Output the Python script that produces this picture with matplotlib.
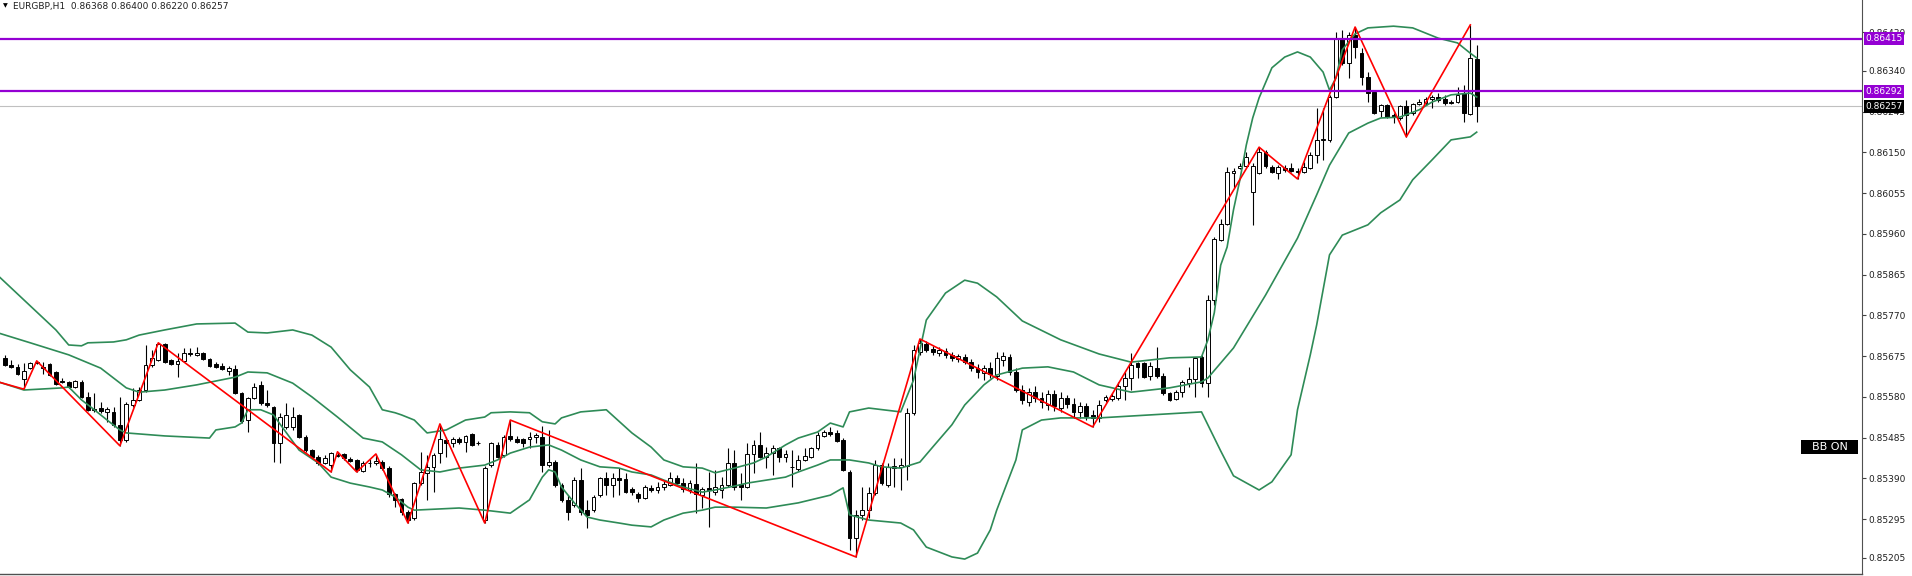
import matplotlib
matplotlib.use("Agg")
import matplotlib.pyplot as plt
import matplotlib.transforms as mtransforms
from matplotlib.patches import Rectangle
import numpy as np

symbol = "EURGBP,H1"

# hourly candles, oldest first
opens = [
    0.85671, 0.85654, 0.85650, 0.85622, 0.85647, 0.85659, 0.85650, 0.85657, 0.85638, 0.85617,
    0.85615, 0.85603, 0.85615, 0.85580, 0.85552, 0.85554, 0.85545, 0.85545, 0.85515, 0.85480,
    0.85561, 0.85573, 0.85596, 0.85654, 0.85666, 0.85703, 0.85666, 0.85657, 0.85664, 0.85682,
    0.85678, 0.85682, 0.85668, 0.85657, 0.85652, 0.85640, 0.85645, 0.85589, 0.85526, 0.85577,
    0.85608, 0.85566, 0.85556, 0.85473, 0.85510, 0.85510, 0.85538, 0.85486, 0.85456, 0.85440,
    0.85426, 0.85421, 0.85442, 0.85447, 0.85435, 0.85433, 0.85407, 0.85426, 0.85426, 0.85428,
    0.85414, 0.85354, 0.85342, 0.85312, 0.85298, 0.85379, 0.85403, 0.85417, 0.85449, 0.85480,
    0.85473, 0.85482, 0.85475, 0.85493, 0.85473, 0.85293, 0.85421, 0.85468, 0.85445, 0.85489,
    0.85482, 0.85482, 0.85482, 0.85486, 0.85486, 0.85421, 0.85428, 0.85375, 0.85340, 0.85328,
    0.85386, 0.85316, 0.85316, 0.85351, 0.85391, 0.85375, 0.85391, 0.85389, 0.85365, 0.85354,
    0.85344, 0.85368, 0.85363, 0.85370, 0.85375, 0.85391, 0.85379, 0.85363, 0.85377, 0.85351,
    0.85368, 0.85358, 0.85363, 0.85375, 0.85426, 0.85377, 0.85370, 0.85447, 0.85468, 0.85440,
    0.85449, 0.85461, 0.85440, 0.85417, 0.85412, 0.85433, 0.85440, 0.85461, 0.85489, 0.85498,
    0.85496, 0.85480, 0.85405, 0.85251, 0.85305, 0.85316, 0.85356, 0.85421, 0.85375, 0.85414,
    0.85417, 0.85419, 0.85543, 0.85685, 0.85703, 0.85692, 0.85682, 0.85687, 0.85678, 0.85668,
    0.85673, 0.85661, 0.85647, 0.85636, 0.85647, 0.85629, 0.85666, 0.85673, 0.85638, 0.85596,
    0.85568, 0.85591, 0.85577, 0.85561, 0.85587, 0.85554, 0.85577, 0.85563, 0.85545, 0.85559,
    0.85538, 0.85531, 0.85573, 0.85575, 0.85577, 0.85605, 0.85624, 0.85659, 0.85659, 0.85629,
    0.85647, 0.85629, 0.85589, 0.85575, 0.85591, 0.85612, 0.85622, 0.85673, 0.85612, 0.85806,
    0.85946, 0.85983, 0.86102, 0.86113, 0.86118, 0.86058, 0.86102, 0.86151, 0.86116, 0.86102,
    0.86113, 0.86113, 0.86106, 0.86104, 0.86113, 0.86144, 0.86179, 0.86179, 0.86279, 0.86416,
    0.86358, 0.86423, 0.86381, 0.86326, 0.86291, 0.86246, 0.86260, 0.86237, 0.86230, 0.86258,
    0.86242, 0.86263, 0.86265, 0.86274, 0.86279, 0.86274, 0.86267, 0.86267, 0.86288, 0.86239,
    0.86368,
]
closes = [
    0.85654, 0.85650, 0.85633, 0.85640, 0.85659, 0.85661, 0.85647, 0.85631, 0.85610, 0.85615,
    0.85603, 0.85617, 0.85580, 0.85550, 0.85550, 0.85547, 0.85552, 0.85515, 0.85480, 0.85563,
    0.85573, 0.85596, 0.85654, 0.85671, 0.85703, 0.85661, 0.85657, 0.85664, 0.85682, 0.85680,
    0.85682, 0.85668, 0.85652, 0.85650, 0.85645, 0.85647, 0.85589, 0.85524, 0.85577, 0.85603,
    0.85566, 0.85561, 0.85473, 0.85533, 0.85538, 0.85533, 0.85486, 0.85456, 0.85440, 0.85426,
    0.85438, 0.85449, 0.85445, 0.85438, 0.85431, 0.85410, 0.85426, 0.85425, 0.85431, 0.85414,
    0.85354, 0.85340, 0.85312, 0.85293, 0.85379, 0.85405, 0.85417, 0.85445, 0.85482, 0.85473,
    0.85482, 0.85475, 0.85489, 0.85468, 0.85472, 0.85414, 0.85473, 0.85440, 0.85486, 0.85482,
    0.85475, 0.85473, 0.85486, 0.85491, 0.85421, 0.85428, 0.85375, 0.85340, 0.85312, 0.85386,
    0.85312, 0.85305, 0.85347, 0.85391, 0.85375, 0.85391, 0.85386, 0.85358, 0.85358, 0.85344,
    0.85370, 0.85363, 0.85370, 0.85377, 0.85391, 0.85379, 0.85365, 0.85379, 0.85354, 0.85365,
    0.85363, 0.85370, 0.85375, 0.85426, 0.85370, 0.85370, 0.85447, 0.85468, 0.85440, 0.85449,
    0.85461, 0.85440, 0.85447, 0.85416, 0.85433, 0.85442, 0.85461, 0.85491, 0.85498, 0.85493,
    0.85477, 0.85410, 0.85251, 0.85305, 0.85316, 0.85356, 0.85421, 0.85379, 0.85417, 0.85419,
    0.85421, 0.85543, 0.85689, 0.85706, 0.85689, 0.85685, 0.85689, 0.85678, 0.85671, 0.85675,
    0.85661, 0.85647, 0.85638, 0.85647, 0.85633, 0.85671, 0.85675, 0.85638, 0.85596, 0.85573,
    0.85591, 0.85577, 0.85568, 0.85587, 0.85559, 0.85577, 0.85563, 0.85545, 0.85559, 0.85536,
    0.85531, 0.85561, 0.85580, 0.85582, 0.85605, 0.85624, 0.85654, 0.85650, 0.85626, 0.85652,
    0.85629, 0.85589, 0.85573, 0.85591, 0.85615, 0.85622, 0.85671, 0.85612, 0.85806, 0.85948,
    0.85983, 0.86104, 0.86106, 0.86118, 0.86139, 0.86118, 0.86151, 0.86118, 0.86104, 0.86116,
    0.86109, 0.86106, 0.86105, 0.86116, 0.86144, 0.86179, 0.86181, 0.86279, 0.86416, 0.86358,
    0.86423, 0.86395, 0.86326, 0.86288, 0.86242, 0.86260, 0.86232, 0.86232, 0.86258, 0.86237,
    0.86263, 0.86267, 0.86274, 0.86279, 0.86272, 0.86265, 0.86265, 0.86284, 0.86242, 0.86370,
    0.86257,
]
highs = [
    0.85678, 0.85666, 0.85657, 0.85659, 0.85661, 0.85664, 0.85661, 0.85659, 0.85640, 0.85624,
    0.85617, 0.85619, 0.85619, 0.85591, 0.85589, 0.85568, 0.85556, 0.85556, 0.85580, 0.85568,
    0.85601, 0.85603, 0.85701, 0.85689, 0.85706, 0.85706, 0.85668, 0.85682, 0.85694, 0.85694,
    0.85696, 0.85685, 0.85671, 0.85661, 0.85659, 0.85652, 0.85654, 0.85591, 0.85580, 0.85612,
    0.85617, 0.85596, 0.85559, 0.85543, 0.85566, 0.85556, 0.85540, 0.85491, 0.85459, 0.85445,
    0.85445, 0.85452, 0.85452, 0.85449, 0.85440, 0.85435, 0.85431, 0.85435, 0.85447, 0.85433,
    0.85419, 0.85356, 0.85344, 0.85316, 0.85382, 0.85452, 0.85445, 0.85449, 0.85517, 0.85486,
    0.85486, 0.85486, 0.85491, 0.85496, 0.85477, 0.85419, 0.85475, 0.85475, 0.85491, 0.85526,
    0.85489, 0.85484, 0.85498, 0.85496, 0.85512, 0.85503, 0.85433, 0.85379, 0.85351, 0.85393,
    0.85414, 0.85340, 0.85351, 0.85393, 0.85405, 0.85403, 0.85414, 0.85403, 0.85370, 0.85358,
    0.85375, 0.85375, 0.85382, 0.85386, 0.85405, 0.85398, 0.85391, 0.85386, 0.85426, 0.85370,
    0.85405, 0.85410, 0.85393, 0.85461, 0.85456, 0.85403, 0.85473, 0.85480, 0.85498, 0.85463,
    0.85468, 0.85463, 0.85456, 0.85456, 0.85445, 0.85461, 0.85463, 0.85498, 0.85503, 0.85510,
    0.85503, 0.85484, 0.85410, 0.85316, 0.85370, 0.85370, 0.85433, 0.85426, 0.85426, 0.85438,
    0.85438, 0.85554, 0.85701, 0.85715, 0.85710, 0.85699, 0.85696, 0.85694, 0.85685, 0.85680,
    0.85680, 0.85668, 0.85657, 0.85654, 0.85661, 0.85685, 0.85685, 0.85680, 0.85647, 0.85608,
    0.85601, 0.85605, 0.85591, 0.85596, 0.85596, 0.85591, 0.85584, 0.85577, 0.85568, 0.85566,
    0.85550, 0.85573, 0.85584, 0.85589, 0.85615, 0.85638, 0.85682, 0.85661, 0.85661, 0.85661,
    0.85696, 0.85636, 0.85591, 0.85596, 0.85619, 0.85650, 0.85673, 0.85678, 0.85818, 0.85953,
    0.85995, 0.86116, 0.86113, 0.86125, 0.86151, 0.86125, 0.86162, 0.86155, 0.86120, 0.86120,
    0.86120, 0.86125, 0.86113, 0.86127, 0.86151, 0.86253, 0.86253, 0.86284, 0.86430, 0.86435,
    0.86430, 0.86442, 0.86393, 0.86337, 0.86295, 0.86263, 0.86263, 0.86242, 0.86260, 0.86272,
    0.86265, 0.86274, 0.86279, 0.86284, 0.86288, 0.86284, 0.86272, 0.86302, 0.86307, 0.86447,
    0.86400,
]
lows = [
    0.85652, 0.85647, 0.85631, 0.85598, 0.85645, 0.85657, 0.85633, 0.85629, 0.85608, 0.85612,
    0.85601, 0.85601, 0.85577, 0.85547, 0.85545, 0.85543, 0.85522, 0.85510, 0.85466, 0.85475,
    0.85556, 0.85570, 0.85591, 0.85650, 0.85664, 0.85659, 0.85654, 0.85626, 0.85661, 0.85675,
    0.85675, 0.85666, 0.85650, 0.85647, 0.85643, 0.85631, 0.85587, 0.85519, 0.85498, 0.85575,
    0.85561, 0.85556, 0.85428, 0.85426, 0.85505, 0.85503, 0.85484, 0.85452, 0.85438, 0.85421,
    0.85424, 0.85405, 0.85440, 0.85433, 0.85428, 0.85405, 0.85405, 0.85417, 0.85421, 0.85410,
    0.85347, 0.85323, 0.85305, 0.85286, 0.85293, 0.85375, 0.85340, 0.85358, 0.85426, 0.85440,
    0.85463, 0.85470, 0.85452, 0.85466, 0.85468, 0.85286, 0.85417, 0.85438, 0.85440, 0.85477,
    0.85473, 0.85463, 0.85461, 0.85473, 0.85405, 0.85417, 0.85370, 0.85335, 0.85293, 0.85323,
    0.85305, 0.85274, 0.85312, 0.85347, 0.85351, 0.85347, 0.85351, 0.85356, 0.85351, 0.85335,
    0.85342, 0.85358, 0.85356, 0.85363, 0.85372, 0.85375, 0.85358, 0.85356, 0.85309, 0.85321,
    0.85277, 0.85351, 0.85344, 0.85370, 0.85363, 0.85340, 0.85368, 0.85403, 0.85438, 0.85414,
    0.85398, 0.85428, 0.85428, 0.85370, 0.85407, 0.85431, 0.85438, 0.85456, 0.85486, 0.85489,
    0.85475, 0.85407, 0.85223, 0.85207, 0.85293, 0.85298, 0.85351, 0.85375, 0.85370, 0.85370,
    0.85363, 0.85386, 0.85538, 0.85678, 0.85685, 0.85678, 0.85675, 0.85671, 0.85664, 0.85661,
    0.85657, 0.85640, 0.85624, 0.85619, 0.85624, 0.85619, 0.85652, 0.85631, 0.85591, 0.85563,
    0.85559, 0.85568, 0.85554, 0.85550, 0.85547, 0.85545, 0.85554, 0.85531, 0.85531, 0.85526,
    0.85510, 0.85522, 0.85568, 0.85570, 0.85573, 0.85573, 0.85596, 0.85624, 0.85624, 0.85619,
    0.85624, 0.85584, 0.85570, 0.85573, 0.85580, 0.85603, 0.85580, 0.85603, 0.85580, 0.85794,
    0.85943, 0.85981, 0.86067, 0.86111, 0.86116, 0.85981, 0.86099, 0.86113, 0.86102, 0.86088,
    0.86104, 0.86104, 0.86088, 0.86102, 0.86111, 0.86125, 0.86132, 0.86174, 0.86277, 0.86354,
    0.86323, 0.86370, 0.86307, 0.86267, 0.86239, 0.86232, 0.86230, 0.86218, 0.86225, 0.86186,
    0.86237, 0.86260, 0.86260, 0.86253, 0.86267, 0.86260, 0.86263, 0.86265, 0.86221, 0.86237,
    0.86220,
]

# zigzag pivots (candle index, price)
zz_idx = [-2, 3, 5, 18, 24, 51, 52, 55, 58, 63, 68, 75, 79, 133, 143, 170, 196, 202, 211, 219, 229]
zz_price = [0.85619, 0.85598, 0.85664, 0.85466, 0.85706, 0.85405, 0.85452, 0.85405, 0.85447, 0.85286,
            0.85517, 0.85286, 0.85526, 0.85207, 0.85715, 0.85510, 0.86162, 0.86088, 0.86442, 0.86186,
            0.86447]

# bollinger bands read at selected candles
bb_up_idx = [-1, 8, 10, 12, 13, 17, 19, 21, 25, 30, 36, 38, 41, 45, 48, 51, 54, 57, 59, 61,
             62, 64, 66, 69, 72, 75, 76, 79, 82, 84, 86, 87, 90, 94, 98, 101, 103, 106, 109, 111,
             114, 117, 119, 122, 124, 127, 129, 131, 132, 135, 140, 142, 144, 147, 150, 152, 155, 159, 165, 171,
             176, 182, 187, 188, 189, 190, 191, 192, 193, 194, 195, 196, 198, 200, 202, 204, 206, 207, 208, 209,
             211, 213, 217, 220, 222, 224, 227, 229, 230]
bb_up = [0.85862, 0.85736, 0.85701, 0.85699, 0.85706, 0.85708, 0.85713, 0.85724, 0.85736, 0.85750,
         0.85752, 0.85731, 0.85729, 0.85736, 0.85724, 0.85696, 0.85643, 0.85603, 0.85550, 0.85543,
         0.85538, 0.85526, 0.85496, 0.85503, 0.85526, 0.85533, 0.85543, 0.85545, 0.85543, 0.85522,
         0.85517, 0.85531, 0.85545, 0.85550, 0.85496, 0.85463, 0.85433, 0.85417, 0.85414, 0.85403,
         0.85414, 0.85426, 0.85440, 0.85468, 0.85484, 0.85498, 0.85519, 0.85510, 0.85545, 0.85554,
         0.85545, 0.85619, 0.85759, 0.85822, 0.85852, 0.85845, 0.85813, 0.85757, 0.85713, 0.85680,
         0.85661, 0.85671, 0.85673, 0.85713, 0.85776, 0.85887, 0.85929, 0.86016, 0.86086, 0.86167,
         0.86230, 0.86277, 0.86347, 0.86372, 0.86384, 0.86372, 0.86337, 0.86295, 0.86323, 0.86389,
         0.86426, 0.86440, 0.86444, 0.86440, 0.86428, 0.86416, 0.86405, 0.86381, 0.86370]

bb_mid_idx = [-1, 4, 10, 15, 19, 21, 25, 30, 36, 38, 41, 45, 48, 52, 56, 59, 62, 65, 68, 71,
              75, 77, 79, 82, 85, 87, 90, 93, 96, 98, 101, 103, 106, 109, 111, 114, 116, 119, 122, 124,
              127, 129, 132, 135, 137, 140, 143, 145, 148, 150, 153, 155, 159, 163, 167, 171, 176, 182, 187, 188,
              192, 197, 202, 205, 207, 210, 213, 215, 218, 221, 223, 226, 229, 230]
bb_mid = [0.85729, 0.85706, 0.85678, 0.85647, 0.85601, 0.85591, 0.85596, 0.85608, 0.85626, 0.85638,
          0.85636, 0.85612, 0.85580, 0.85533, 0.85484, 0.85475, 0.85445, 0.85410, 0.85405, 0.85414,
          0.85421, 0.85433, 0.85449, 0.85463, 0.85468, 0.85456, 0.85433, 0.85417, 0.85414, 0.85405,
          0.85398, 0.85386, 0.85370, 0.85358, 0.85363, 0.85372, 0.85379, 0.85386, 0.85393, 0.85405,
          0.85421, 0.85433, 0.85433, 0.85426, 0.85417, 0.85414, 0.85428, 0.85463, 0.85515, 0.85561,
          0.85608, 0.85631, 0.85647, 0.85650, 0.85638, 0.85608, 0.85591, 0.85601, 0.85615, 0.85624,
          0.85694, 0.85817, 0.85950, 0.86051, 0.86120, 0.86195, 0.86218, 0.86230, 0.86232, 0.86249,
          0.86267, 0.86284, 0.86288, 0.86279]

bb_low_idx = [-1, 3, 9, 10, 12, 14, 16, 18, 19, 25, 32, 33, 36, 37, 38, 40, 42, 43, 46, 49,
              51, 54, 57, 59, 61, 63, 64, 71, 75, 79, 82, 84, 85, 86, 87, 89, 91, 93, 96, 98,
              101, 103, 106, 109, 111, 114, 119, 124, 129, 131, 132, 135, 140, 142, 144, 148, 150, 152, 154, 155,
              158, 159, 162, 165, 171, 179, 187, 190, 192, 196, 198, 201, 202, 204, 205, 207, 209, 211, 213, 215,
              218, 220, 223, 226, 229, 230]
bb_low = [0.85615, 0.85596, 0.85601, 0.85603, 0.85573, 0.85550, 0.85526, 0.85503, 0.85496, 0.85489,
          0.85484, 0.85503, 0.85510, 0.85519, 0.85550, 0.85550, 0.85538, 0.85517, 0.85456, 0.85426,
          0.85393, 0.85379, 0.85370, 0.85363, 0.85347, 0.85323, 0.85316, 0.85321, 0.85316, 0.85309,
          0.85340, 0.85393, 0.85410, 0.85405, 0.85370, 0.85333, 0.85300, 0.85293, 0.85286, 0.85281,
          0.85277, 0.85293, 0.85309, 0.85316, 0.85323, 0.85323, 0.85321, 0.85333, 0.85351, 0.85368,
          0.85305, 0.85293, 0.85286, 0.85270, 0.85230, 0.85207, 0.85202, 0.85216, 0.85270, 0.85316,
          0.85433, 0.85503, 0.85526, 0.85531, 0.85531, 0.85538, 0.85545, 0.85454, 0.85396, 0.85363,
          0.85382, 0.85445, 0.85550, 0.85678, 0.85748, 0.85911, 0.85957, 0.85969, 0.85981, 0.86009,
          0.86039, 0.86086, 0.86132, 0.86179, 0.86186, 0.86197]

levels = [0.86415, 0.86292]
last_price = 0.86257
price_ticks = [0.86430, 0.86340, 0.86245, 0.86150, 0.86055, 0.85960, 0.85865,
               0.85770, 0.85675, 0.85580, 0.85485, 0.85390, 0.85295, 0.85205]

W, H = 1912, 576
fig = plt.figure(figsize=(W / 100, H / 100), dpi=100)
fig.patch.set_facecolor("white")
ax = fig.add_axes([0, 2 / H, 1862 / W, 574 / H])
ax.set_facecolor("white")

n = len(opens)
x = np.arange(n)
o = np.array(opens)
c = np.array(closes)
hi = np.array(highs)
lo = np.array(lows)

# wicks then bodies
ax.vlines(x, lo, hi, color="black", lw=0.8, zorder=2)
bull = c >= o
body_lo = np.minimum(o, c)
body_h = np.maximum(np.abs(c - o), 0.000004)
ax.bar(x[bull], body_h[bull], bottom=body_lo[bull], width=0.62,
       color="white", edgecolor="black", linewidth=0.7, zorder=3)
ax.bar(x[~bull], body_h[~bull], bottom=body_lo[~bull], width=0.62,
       color="black", edgecolor="black", linewidth=0.7, zorder=3)

bb_color = "#2e8b57"
ax.plot(bb_up_idx, bb_up, color=bb_color, lw=1.2, zorder=4)
ax.plot(bb_mid_idx, bb_mid, color=bb_color, lw=1.2, zorder=4)
ax.plot(bb_low_idx, bb_low, color=bb_color, lw=1.2, zorder=4)

ax.plot(zz_idx, zz_price, color="red", lw=1.2, zorder=5)

for lv in levels:
    ax.axhline(lv, color="#9400d3", lw=1.6, zorder=6)
ax.axhline(last_price, color="#c0c0c0", lw=0.8, zorder=1)

ax.set_xlim(-4.7 / 6.4, (1862 - 4.7) / 6.4)
ax.set_ylim(0.851672, 0.86505)

# MT4-like right price scale
ax.yaxis.tick_right()
ax.set_yticks(price_ticks)
ax.set_yticklabels([f"{v:.5f}" for v in price_ticks])
ax.tick_params(axis="y", direction="out", length=3, width=0.8, color="#404040",
               labelsize=6.5, labelcolor="#202020", pad=1.5)
ax.set_xticks([])
for side in ["top", "left"]:
    ax.spines[side].set_visible(False)
ax.spines["right"].set_color("#505050")
ax.spines["right"].set_linewidth(0.8)
ax.spines["bottom"].set_color("#505050")
ax.spines["bottom"].set_linewidth(1.0)

trans = mtransforms.blended_transform_factory(ax.transAxes, ax.transData)
for lv in levels:
    ax.text(1.0018, lv, f"{lv:.5f}", transform=trans, ha="left", va="center",
            fontsize=6.5, color="white", clip_on=False, zorder=10,
            bbox=dict(boxstyle="square,pad=0.18", fc="#9400d3", ec="none"))
ax.text(1.0018, last_price, f"{last_price:.5f}", transform=trans, ha="left", va="center",
        fontsize=6.5, color="white", clip_on=False, zorder=10,
        bbox=dict(boxstyle="square,pad=0.18", fc="black", ec="none"))

# "BB ON" button
ax.add_patch(Rectangle((1801 / 1862, 1 - 454 / 574), 57 / 1862, 14 / 574,
                       transform=ax.transAxes, fc="black", ec="none", zorder=10))
ax.text(1829.5 / 1862, 1 - 447 / 574, "BB ON", transform=ax.transAxes, ha="center",
        va="center", fontsize=8, color="white", zorder=11)

fig.text(3 / W, 1 - 6 / H, "\u25bc", fontsize=4.5, color="black", va="center", ha="left")
fig.text(13 / W, 1 - 6 / H,
         f"{symbol}  {opens[-1]:.5f} {highs[-1]:.5f} {lows[-1]:.5f} {closes[-1]:.5f}",
         fontsize=6.5, color="#202020", va="center", ha="left")

fig.savefig("out.png", dpi=100, facecolor="white")
